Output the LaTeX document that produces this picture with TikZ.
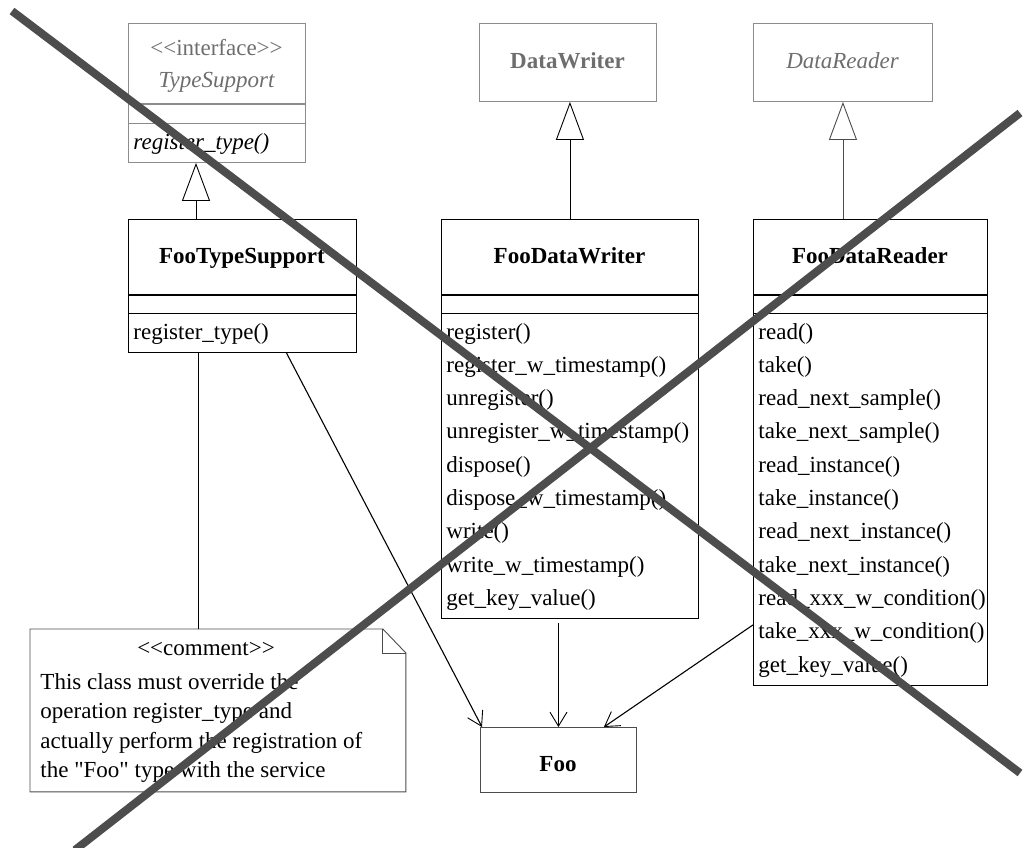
\documentclass[tikz,border=0pt]{standalone}
\usepackage{fontspec}
\setmainfont[Ligatures=TeXOff]{Liberation Serif}
\usetikzlibrary{arrows.meta}
\definecolor{ifgray}{HTML}{6E6E6E}
\definecolor{boxgray}{HTML}{8C8C8C}
\definecolor{crossgray}{HTML}{4D4D4D}
\newcommand{\umlfont}{\fontsize{23}{28}\selectfont}

\begin{document}
\begin{tikzpicture}[x=1pt,y=-1pt,line width=0.9pt,
    every node/.style={font=\umlfont},
    cls/.style={draw,anchor=north west,inner sep=0pt},
    iface/.style={cls,draw=boxgray},
    op/.style={anchor=base west,inner sep=0pt},
    title/.style={anchor=base,inner sep=0pt,font=\umlfont\bfseries},
    gen/.style={-{Triangle[open,length=38pt,width=28pt,fill=white]}},
    dep/.style={line width=1.1pt,-{Straight Barb[length=14pt,width=17pt,line width=0.9pt]}},
    cross/.style={crossgray,line width=8pt}]
  \useasboundingbox (0,0) rectangle (1026,847);

  % interface / base classes
  \node[iface,minimum width=177pt,minimum height=139pt] (ts) at (128,23) {};
  \node[title,font=\umlfont,ifgray] (ts-st) at (216.5,55) {<<interface>>};
  \node[title,font=\umlfont\itshape,ifgray] (ts-n) at (216.5,87) {TypeSupport};
  \node[op,font=\umlfont\itshape] (ts-m) at (133,149) {register\_type()};
  \draw[boxgray,line width=2pt] ([yshift=-81pt]ts.north west) -- ([yshift=-81pt]ts.north east);
  \draw[boxgray] ([yshift=-100pt]ts.north west) -- ([yshift=-100pt]ts.north east);

  \node[iface,minimum width=177pt,minimum height=78pt] (dw) at (479,23) {};
  \node[title,ifgray] (dw-n) at (567.5,68) {DataWriter};

  \node[iface,minimum width=179pt,minimum height=78pt] (dr) at (753,23) {};
  \node[title,font=\umlfont\itshape,ifgray] (dr-n) at (842.5,68) {DataReader};

  % Foo classes
  \node[cls,minimum width=228pt,minimum height=133pt] (fts) at (128,219) {};
  \node[title] (fts-n) at (242,263) {FooTypeSupport};
  \node[op] (fts-m) at (133,339) {register\_type()};

  \node[cls,minimum width=257pt,minimum height=399pt] (fdw) at (441,219) {};
  \node[title] (fdw-n) at (569.5,263) {FooDataWriter};
  \foreach \m [count=\i from 0] in {register(),register\_w\_timestamp(),unregister(),
      unregister\_w\_timestamp(),dispose(),dispose\_w\_timestamp(),write(),
      write\_w\_timestamp(),get\_key\_value()}
    \node[op] (fdw-m\i) at (446,339+33.33*\i) {\m};

  \node[cls,minimum width=234pt,minimum height=466pt] (fdr) at (753,219) {};
  \node[title] (fdr-n) at (870,263) {FooDataReader};
  \foreach \m [count=\i from 0] in {read(),take(),read\_next\_sample(),take\_next\_sample(),
      read\_instance(),take\_instance(),read\_next\_instance(),take\_next\_instance(),
      read\_xxx\_w\_condition(),take\_xxx\_w\_condition(),get\_key\_value()}
    \node[op] (fdr-m\i) at (758,339+33.33*\i) {\m};

  \foreach \c in {fts,fdw,fdr} {
    \draw[line width=2pt] ([yshift=-76pt]\c.north west) -- ([yshift=-76pt]\c.north east);
    \draw ([yshift=-94pt]\c.north west) -- ([yshift=-94pt]\c.north east);
  }

  \node[cls,draw=black!70,minimum width=156pt,minimum height=65pt] (foo) at (480,727) {};
  \node[title] (foo-n) at (558,771) {Foo};

  % comment
  \node[anchor=north west,inner sep=0pt,minimum width=375pt,minimum height=162pt] (note) at (30,629) {};
  \draw[black!70] (note.north west) -- ([xshift=-23pt]note.north east) -- ([yshift=-24pt]note.north east)
    -- (note.south east) -- (note.south west) -- cycle;
  \draw[black!70] ([xshift=-23pt]note.north east) |- ([yshift=-24pt]note.north east);
  \node[title,font=\umlfont] (note-st) at (206,655) {<<comment>>};
  \node[op] (note-l1) at (40,689) {This class must override the};
  \node[op] (note-l2) at (40,718) {operation register\_type and};
  \node[op] (note-l3) at (40,748) {actually perform the registration of};
  \node[op] (note-l4) at (40,777) {the "Foo" type with the service};

  % connectors
  \draw[gen] ([xshift=68pt]fts.north west) -- ([xshift=68pt]ts.south west);
  \draw[gen] (fdw.north) -- (fdw.north |- dw.south);
  \draw[gen,black!70] (fdr.north -| dr.south) -- (dr.south);
  \coordinate (cm) at ([xshift=70pt]fts.south west);
  \draw (cm) -- (cm |- note.north);
  \draw[dep] ([xshift=44pt]fts.south) -- ([xshift=2pt]foo.north west);
  \draw[dep,shorten <=4pt] (fdw.south -| foo.north) -- (foo.north);
  \draw[dep] ([yshift=61pt]fdr.south west) -- ([xshift=-33pt]foo.north east);

  % big cross
  \draw[cross] (12,11) -- (1020,773);
  \draw[cross] (1020,113) -- (75,850);
\end{tikzpicture}
\end{document}
